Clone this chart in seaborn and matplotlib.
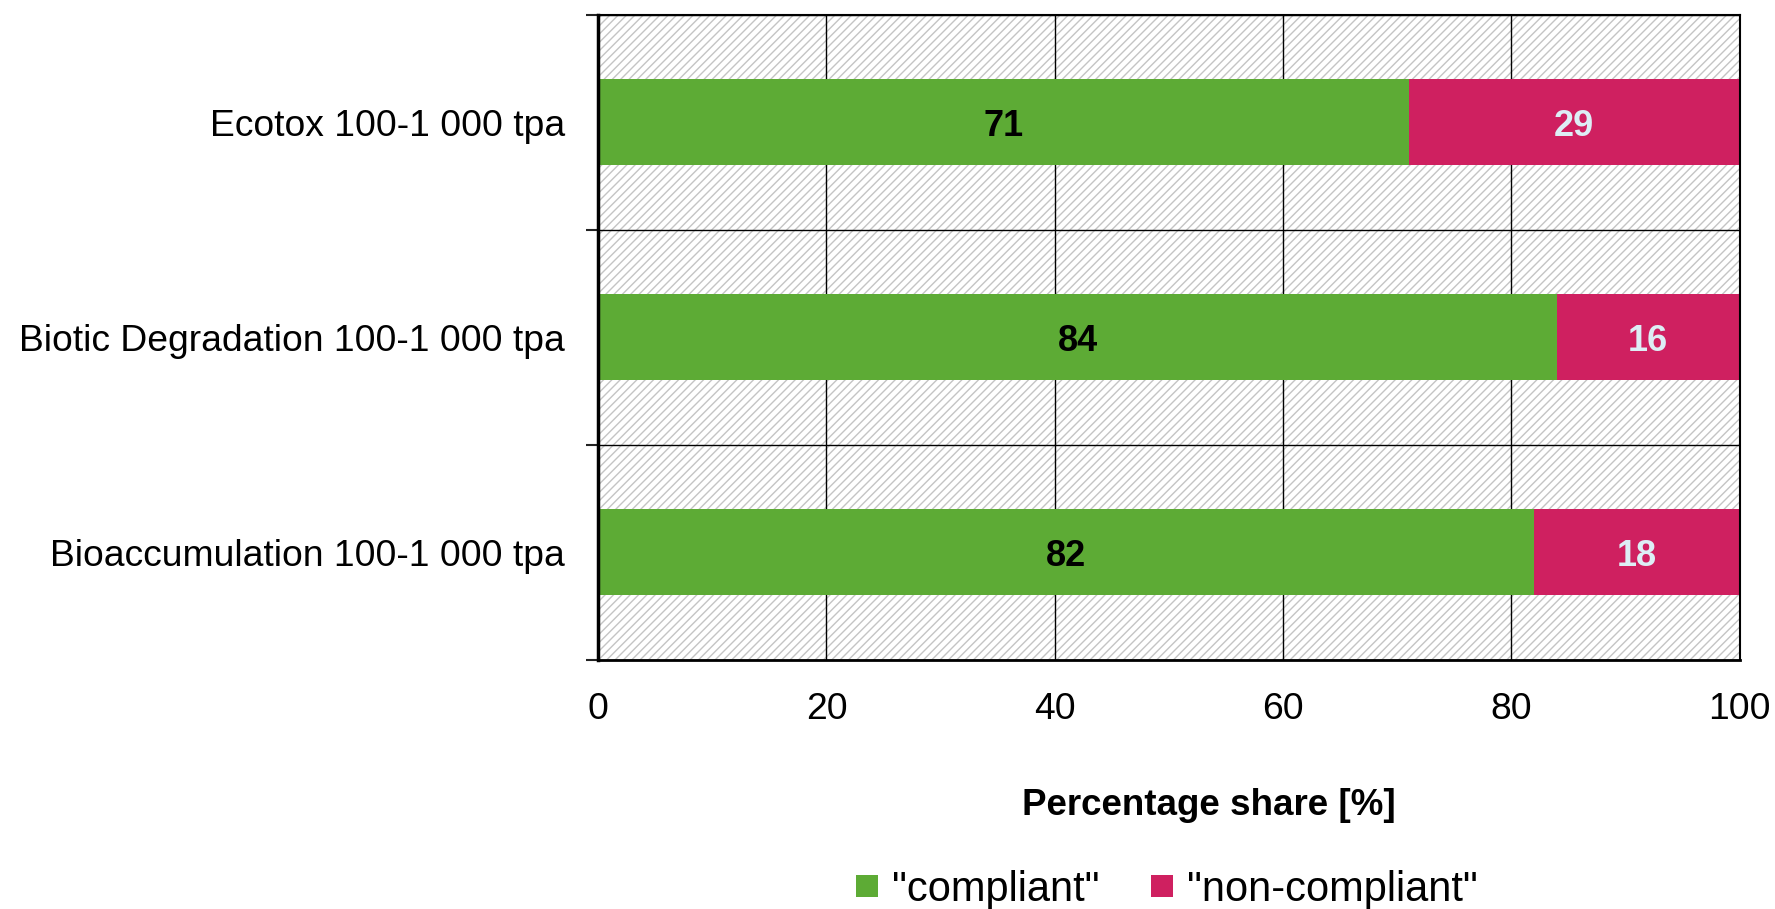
import matplotlib
matplotlib.use("Agg")
import matplotlib.pyplot as plt
from matplotlib.patches import Rectangle
from matplotlib.lines import Line2D
import seaborn as sns
import pandas as pd
import numpy as np

# data
categories = ["Ecotox 100-1 000 tpa",
              "Biotic Degradation 100-1 000 tpa",
              "Bioaccumulation 100-1 000 tpa"]
compliant = [71, 84, 82]
non_compliant = [29, 16, 18]

green = "#5dab35"
red = "#cf2060"

sns.set_theme(style="white")
plt.rcParams["font.family"] = ["Liberation Sans", "DejaVu Sans"]
plt.rcParams["text.color"] = "black"
plt.rcParams["hatch.linewidth"] = 1.0

df = pd.DataFrame({"category": categories,
                   "compliant": compliant,
                   "non_compliant": non_compliant})
df["total"] = df["compliant"] + df["non_compliant"]

fig, ax = plt.subplots(figsize=(17.75, 9.09), dpi=100)
fig.subplots_adjust(left=0.337, right=0.98, top=0.984, bottom=0.274)

# hatched background
bg = Rectangle((0, 0), 1, 1, transform=ax.transAxes, facecolor="white",
               edgecolor="#c4c4c4", hatch="////", linewidth=0, zorder=0)
ax.add_patch(bg)

sns.barplot(data=df, x="total", y="category", orient="h", color=red,
            width=0.4, saturation=1, ax=ax, zorder=3)
sns.barplot(data=df, x="compliant", y="category", orient="h", color=green,
            width=0.4, saturation=1, ax=ax, zorder=4)
for p in ax.patches:
    p.set_linewidth(0)

# value labels
for i, row in df.iterrows():
    ax.text(row["compliant"] / 2, i, str(row["compliant"]), ha="center",
            va="center_baseline", fontsize=26, fontweight="bold", color="black", zorder=5)
    ax.text(row["compliant"] + row["non_compliant"] / 2, i, str(row["non_compliant"]),
            ha="center", va="center_baseline", fontsize=26, fontweight="bold",
            color="#ddeef5", zorder=5)

ax.set_xlim(0, 100)
ax.set_ylim(len(categories) - 0.5, -0.5)
ax.set_xticks(np.arange(0, 101, 20))
ax.set_yticks(np.arange(len(categories)))
ax.set_yticks(np.arange(len(categories) + 1) - 0.5, minor=True)
ax.set_xlabel("")
ax.set_ylabel("")

ax.tick_params(axis="x", length=0, pad=23, labelsize=26.8, colors="black")
ax.tick_params(axis="y", which="major", length=0, pad=24, labelsize=26.8, colors="black")
ax.tick_params(axis="y", which="minor", left=True, length=9, width=1.5, color="#222222")

ax.grid(True, axis="x", which="major", color="black", linewidth=1, zorder=1)
ax.grid(True, axis="y", which="minor", color="black", linewidth=1, zorder=1)
ax.grid(False, axis="y", which="major")
ax.set_axisbelow(True)

for side, lw in {"left": 2.5, "bottom": 2.0, "top": 1.5, "right": 1.5}.items():
    ax.spines[side].set_visible(True)
    ax.spines[side].set_color("black")
    ax.spines[side].set_linewidth(lw)
    ax.spines[side].set_zorder(6)

fig.text(0.681, 0.114, "Percentage share [%]", ha="center", va="center",
         fontsize=26.5, fontweight="bold", color="black")

handles = [Line2D([], [], marker="s", linestyle="none", markersize=16,
                  markerfacecolor=green, markeredgewidth=0),
           Line2D([], [], marker="s", linestyle="none", markersize=16,
                  markerfacecolor=red, markeredgewidth=0)]
leg = fig.legend(handles, ['"compliant"', '"non-compliant"'], loc="center",
                 bbox_to_anchor=(0.657, 0.021), ncol=2, frameon=False, fontsize=30,
                 handlelength=0.6, handletextpad=0.3, columnspacing=1.2)
for t in leg.get_texts():
    t.set_color("black")

fig.savefig("out.png", dpi=100)
